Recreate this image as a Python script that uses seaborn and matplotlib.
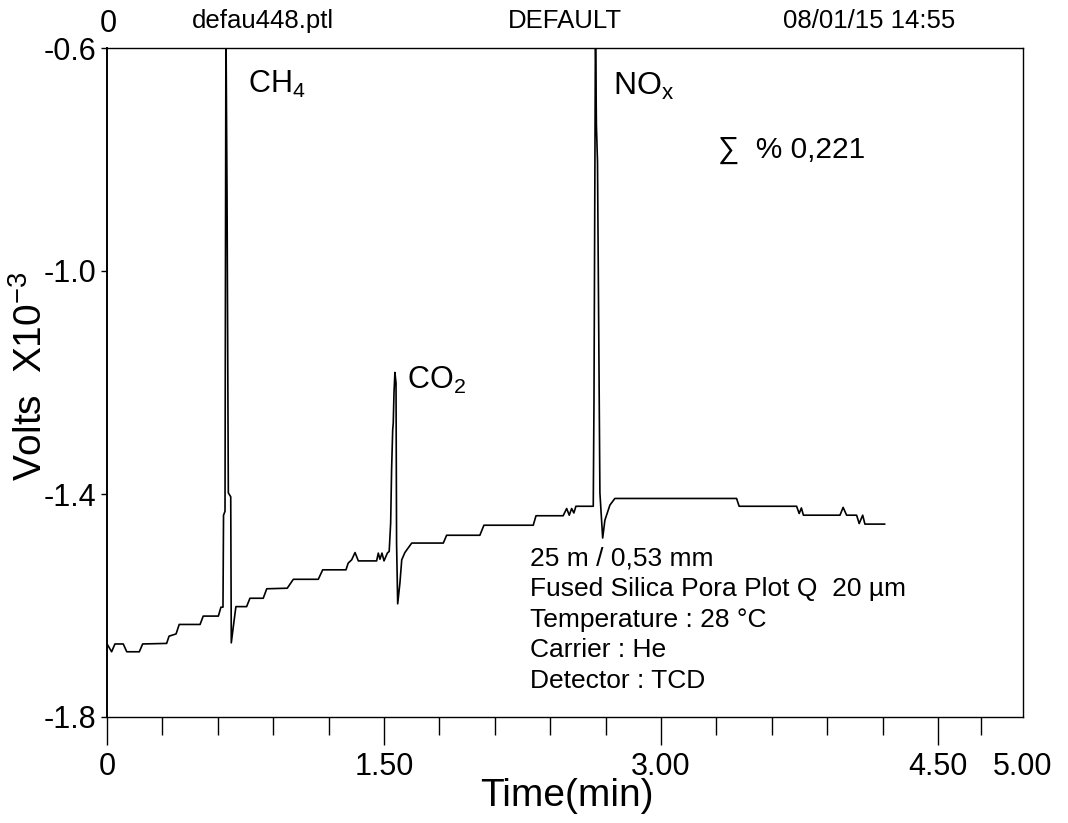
import matplotlib
matplotlib.use("Agg")
import matplotlib.pyplot as plt
import seaborn as sns
import pandas as pd

# ---- data ----
time_min = [0.002, 0.025, 0.043, 0.088, 0.107, 0.175, 0.193, 0.323, 0.336, 0.374,
            0.391, 0.504, 0.521, 0.603, 0.617, 0.628, 0.631, 0.639, 0.644, 0.650,
            0.657, 0.670, 0.673, 0.684, 0.698, 0.756, 0.774, 0.846, 0.865, 0.976,
            1.009, 1.144, 1.168, 1.294, 1.306, 1.325, 1.343, 1.361, 1.460, 1.469,
            1.478, 1.489, 1.500, 1.518, 1.528, 1.536, 1.541, 1.547, 1.550, 1.554,
            1.559, 1.565, 1.568, 1.574, 1.586, 1.596, 1.613, 1.650, 1.821, 1.839,
            2.019, 2.041, 2.308, 2.323, 2.470, 2.489, 2.503, 2.516, 2.528, 2.539,
            2.633, 2.637, 2.645, 2.650, 2.656, 2.669, 2.684, 2.696, 2.723, 2.750,
            3.409, 3.423, 3.734, 3.748, 3.760, 3.771, 3.969, 3.986, 4.005, 4.059,
            4.073, 4.092, 4.104, 4.212]
volts = [-1.670, -1.683, -1.669, -1.669, -1.683, -1.683, -1.669, -1.668, -1.655, -1.651,
         -1.634, -1.634, -1.619, -1.619, -1.603, -1.603, -1.438, -1.431, -0.550, -0.867,
         -1.398, -1.405, -1.667, -1.638, -1.602, -1.602, -1.587, -1.587, -1.570, -1.569,
         -1.553, -1.553, -1.536, -1.536, -1.524, -1.518, -1.505, -1.520, -1.520, -1.506,
         -1.517, -1.506, -1.520, -1.506, -1.503, -1.452, -1.357, -1.285, -1.273, -1.219,
         -1.182, -1.201, -1.488, -1.597, -1.560, -1.518, -1.505, -1.488, -1.488, -1.474,
         -1.474, -1.456, -1.456, -1.439, -1.439, -1.426, -1.438, -1.426, -1.434, -1.422,
         -1.422, -1.231, -0.550, -0.738, -0.804, -1.398, -1.479, -1.447, -1.420, -1.408,
         -1.408, -1.422, -1.422, -1.435, -1.425, -1.438, -1.438, -1.424, -1.438, -1.438,
         -1.453, -1.438, -1.454, -1.454]

x_major = [0.0, 1.5, 3.0, 4.5, 4.96]
x_major_labels = ["0", "1.50", "3.00", "4.50", "5.00"]
x_minor = [0.3, 0.6, 0.9, 1.2, 1.8, 2.1, 2.4, 2.7, 3.3, 3.6, 3.9, 4.2, 4.73]
y_ticks = [-0.6, -1.0, -1.4, -1.8]
y_labels = ["-0.6", "-1.0", "-1.4", "-1.8"]

peak_labels = ["CH$_4$", "CO$_2$", "NO$_\\mathrm{x}$"]
info_lines = ["25 m / 0,53 mm", "Fused Silica Pora Plot Q  20 µm",
              "Temperature : 28 °C", "Carrier : He", "Detector : TCD"]
header = ["0", "defau448.ptl", "DEFAULT", "08/01/15 14:55"]
sum_text = "∑  % 0,221"

# ---- styling ----
sns.set_theme(style="white")
plt.rcParams["font.family"] = ["Liberation Sans", "DejaVu Sans"]
plt.rcParams["mathtext.fontset"] = "custom"
plt.rcParams["mathtext.rm"] = "Liberation Sans"
plt.rcParams["mathtext.it"] = "Liberation Sans:italic"
plt.rcParams["mathtext.bf"] = "Liberation Sans:bold"
for key in ["text.color", "axes.labelcolor", "xtick.color", "ytick.color"]:
    plt.rcParams[key] = "black"

fig = plt.figure(figsize=(10.68, 8.23), dpi=100)
ax = fig.add_axes([107 / 1068, 1 - 717 / 823, 916 / 1068, 669 / 823])

df = pd.DataFrame({"time": time_min, "volts": volts})
sns.lineplot(data=df, x="time", y="volts", ax=ax, color="black",
             linewidth=1.2, sort=False, estimator=None)

ax.set_xlim(0, 4.96)
ax.set_ylim(-1.8, -0.6)

for s in ax.spines.values():
    s.set_visible(True)
    s.set_color("black")
    s.set_linewidth(1.0)
ax.spines["left"].set_linewidth(1.4)

ax.set_xticks(x_major)
ax.set_xticklabels(x_major_labels, fontsize=22)
ax.set_xticks(x_minor, minor=True)
ax.tick_params(axis="x", which="major", direction="out", length=20, width=1.0,
               pad=5, colors="black", bottom=True)
ax.tick_params(axis="x", which="minor", direction="out", length=13, width=1.0,
               colors="black", bottom=True)
ax.xaxis.get_major_ticks()[-1].tick1line.set_visible(False)

ax.set_yticks(y_ticks)
ax.set_yticklabels(y_labels, fontsize=22)
ax.tick_params(axis="y", which="major", direction="out", length=4, width=1.0,
               pad=4, colors="black", left=True)

ax.set_xlabel("Time(min)", fontsize=28)
ax.xaxis.set_label_coords(0.502, -0.091)
ax.set_ylabel("Volts  X10$^{-3}$", fontsize=28)
ax.yaxis.set_label_coords(-0.062, 0.51)

# peak labels
ax.text(0.154, 0.933, peak_labels[0], transform=ax.transAxes, fontsize=22,
        va="baseline", ha="left")
ax.text(0.3275, 0.490, peak_labels[1], transform=ax.transAxes, fontsize=22,
        va="baseline", ha="left")
ax.text(0.5524, 0.930, peak_labels[2], transform=ax.transAxes, fontsize=23,
        va="baseline", ha="left")
ax.text(0.667, 0.8356, sum_text, transform=ax.transAxes, fontsize=21.5,
        va="baseline", ha="left")

for i, line in enumerate(info_lines):
    ax.text(0.462, 0.2272 - i * 0.046, line, transform=ax.transAxes, fontsize=19,
            va="baseline", ha="left")

# header
fig.text(108 / 1068, 1 - 32 / 823, header[0], fontsize=22, ha="center", va="baseline")
fig.text(263 / 1068, 1 - 28 / 823, header[1], fontsize=18.5, ha="center", va="baseline")
fig.text(565 / 1068, 1 - 28 / 823, header[2], fontsize=18.5, ha="center", va="baseline")
fig.text(869 / 1068, 1 - 28 / 823, header[3], fontsize=18.5, ha="center", va="baseline")

fig.savefig("out.png", dpi=100, facecolor="white")
